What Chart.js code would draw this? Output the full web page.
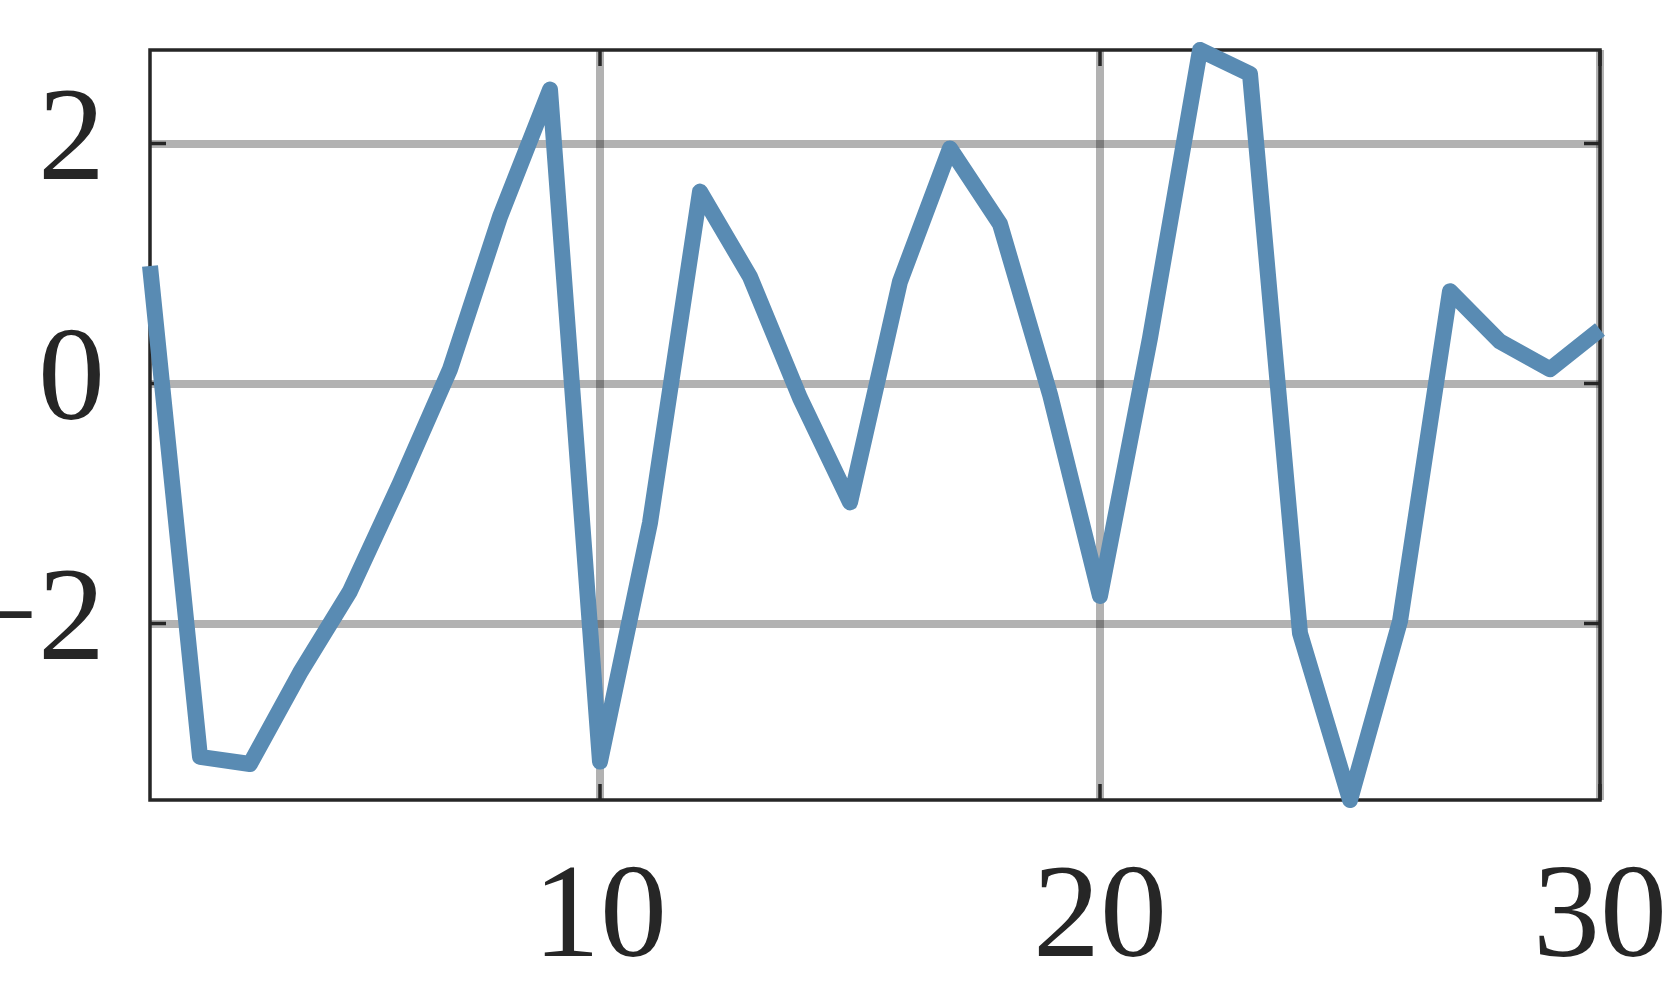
<!DOCTYPE html>
<html>
<head>
<meta charset="utf-8">
<script src="https://cdn.jsdelivr.net/npm/chart.js@4.4.1/dist/chart.umd.min.js"></script>
<style>
  html, body { margin: 0; padding: 0; background: #ffffff; }
  #wrap { width: 1667px; height: 1000px; }
</style>
</head>
<body>
<div id="wrap"><canvas id="c" width="1667" height="1000"></canvas></div>
<script>
// ---- data ----
const xValues = [1, 2, 3, 4, 5, 6, 7, 8, 9, 10, 11, 12, 13, 14, 15, 16, 17, 18, 19, 20, 21, 22, 23, 24, 25, 26, 27, 28, 29, 30];
const yValues = [0.98, -3.11, -3.17, -2.41, -1.73, -0.83, 0.12, 1.39, 2.45, -3.15, -1.16, 1.60, 0.89, -0.12, -0.99, 0.85, 1.96, 1.33, -0.09, -1.77, 0.38, 2.78, 2.58, -2.08, -3.47, -1.98, 0.77, 0.35, 0.12, 0.45];
const xTickValues = [10, 20, 30];
const yTickValues = [-2, 0, 2];

const FONT = { family: "'Liberation Serif', 'DejaVu Serif', serif", size: 134, weight: 'normal' };
const INK = '#262626';

const frameAndTicks = {
  id: 'frameAndTicks',
  beforeDatasetsDraw(chart) {
    const { ctx, chartArea: a } = chart;
    const xs = chart.scales.x, ys = chart.scales.y;
    const L = 16;
    ctx.save();
    ctx.strokeStyle = INK;
    ctx.lineWidth = 3.5;
    ctx.lineCap = 'butt';
    ctx.strokeRect(a.left, a.top, a.right - a.left, a.bottom - a.top);
    ctx.beginPath();
    xs.ticks.forEach(t => {
      const px = xs.getPixelForValue(t.value);
      ctx.moveTo(px, a.bottom); ctx.lineTo(px, a.bottom - L);
      ctx.moveTo(px, a.top); ctx.lineTo(px, a.top + L);
    });
    ys.ticks.forEach(t => {
      const py = ys.getPixelForValue(t.value);
      ctx.moveTo(a.left, py); ctx.lineTo(a.left + L, py);
      ctx.moveTo(a.right, py); ctx.lineTo(a.right - L, py);
    });
    ctx.stroke();
    ctx.restore();
  }
};

const points = xValues.map((x, i) => ({ x: x, y: yValues[i] }));

new Chart(document.getElementById('c'), {
  type: 'line',
  data: {
    datasets: [{
      data: points,
      borderColor: '#598bb3',
      borderWidth: 16,
      borderJoinStyle: 'round',
      borderCapStyle: 'butt',
      pointRadius: 0,
      pointHoverRadius: 0,
      tension: 0,
      fill: false,
      clip: false
    }]
  },
  options: {
    responsive: false,
    devicePixelRatio: 1,
    animation: false,
    events: [],
    layout: { padding: { top: 50, right: 67, left: 0, bottom: 0 } },
    plugins: { legend: { display: false }, tooltip: { enabled: false } },
    scales: {
      x: {
        type: 'linear',
        min: Math.min(...xValues),
        max: Math.max(...xValues),
        afterBuildTicks: s => { s.ticks = xTickValues.map(v => ({ value: v })); },
        afterFit: s => { s.height = 200; s.paddingLeft = 0; s.paddingRight = 0; },
        grid: { color: 'rgba(0,0,0,0.3)', lineWidth: 8, drawTicks: false },
        border: { display: false },
        ticks: {
          autoSkip: false, maxRotation: 0, minRotation: 0,
          padding: 40, color: INK, font: FONT,
          callback: v => String(v)
        }
      },
      y: {
        type: 'linear',
        min: Math.min(...yValues),
        max: Math.max(...yValues),
        afterBuildTicks: s => { s.ticks = yTickValues.map(v => ({ value: v })); },
        afterFit: s => { s.width = 150; s.paddingTop = 0; s.paddingBottom = 0; },
        grid: { color: 'rgba(0,0,0,0.3)', lineWidth: 8, drawTicks: false },
        border: { display: false },
        ticks: {
          autoSkip: false,
          padding: 45, labelOffset: 0, color: INK, font: FONT,
          callback: v => (v < 0 ? '\u2212' + Math.abs(v) : String(v))
        }
      }
    }
  },
  plugins: [frameAndTicks]
});
</script>
</body>
</html>
